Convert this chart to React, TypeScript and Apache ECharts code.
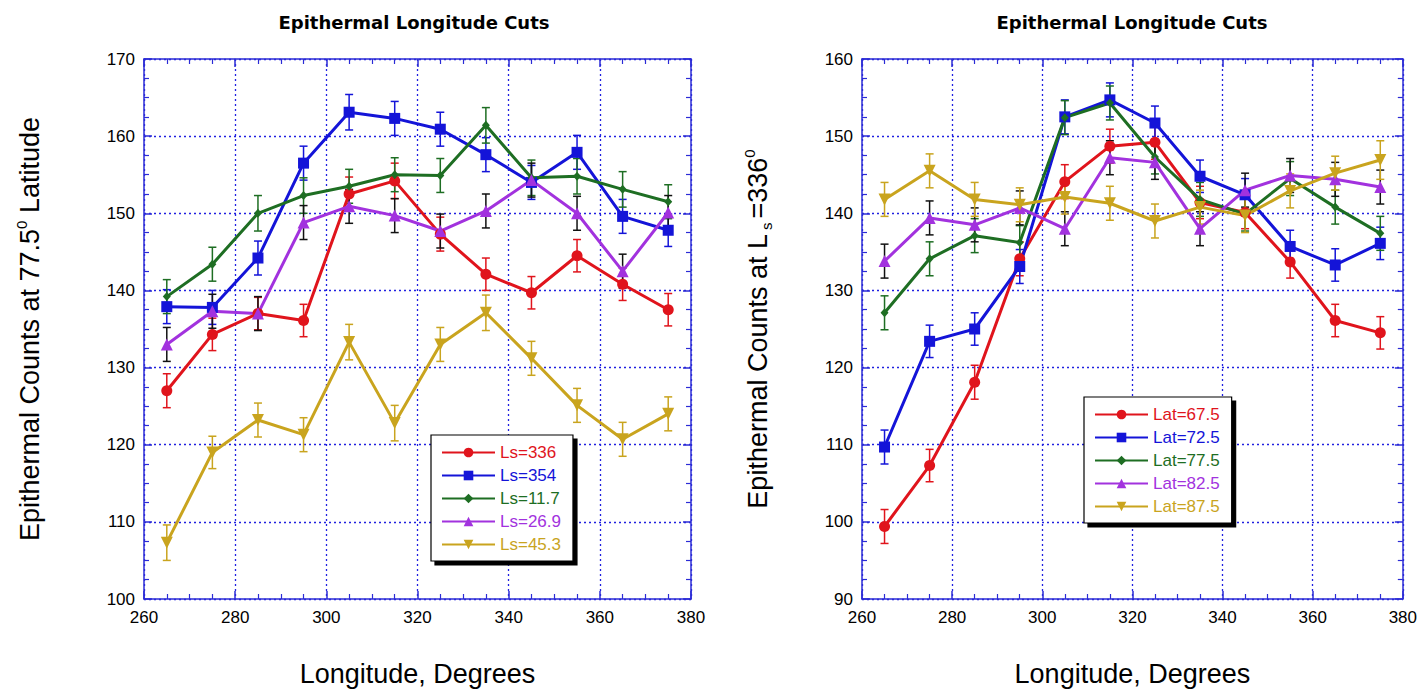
import React, { useEffect, useRef } from "react";
import * as echarts from "echarts";

// ---------- data ----------
const longitudes = [265, 275, 285, 295, 305, 315, 325, 335, 345, 355, 365, 375];

// Left panel: counts at 77.5 deg latitude for several Ls
const ls336 = [127.0, 134.3, 137.0, 136.1, 152.5, 154.2, 147.3, 142.1, 139.7, 144.5, 140.8, 137.5];
const ls354 = [137.9, 137.8, 144.2, 156.5, 163.1, 162.3, 160.9, 157.6, 154.0, 157.9, 149.6, 147.8];
const ls11_7 = [139.2, 143.4, 150.0, 152.3, 153.5, 155.0, 154.9, 161.4, 154.6, 154.8, 153.1, 151.5];
const ls26_9 = [133.0, 137.3, 137.0, 148.8, 150.9, 149.7, 147.7, 150.3, 154.3, 150.0, 142.5, 150.1];
const ls45_3 = [107.3, 119.0, 123.2, 121.3, 133.3, 122.8, 133.0, 137.1, 131.2, 125.1, 120.7, 124.0];

const errLs336 = [2.2, 2.1, 2.1, 2.1, 2.2, 2.3, 2.2, 2.1, 2.1, 2.1, 2.1, 2.1];
const errLs354 = [2.2, 2.2, 2.2, 2.2, 2.3, 2.2, 2.2, 2.2, 2.2, 2.2, 2.2, 2.1];
const errLs11_7 = [2.2, 2.2, 2.3, 2.3, 2.2, 2.2, 2.2, 2.3, 2.3, 2.3, 2.3, 2.2];
const errLs26_9 = [2.2, 2.2, 2.2, 2.2, 2.2, 2.2, 2.2, 2.2, 2.2, 2.2, 2.2, 2.2];
const errLs45_3 = [2.3, 2.1, 2.2, 2.2, 2.3, 2.3, 2.2, 2.3, 2.2, 2.2, 2.2, 2.2];

// Right panel: counts at Ls = 336 for several latitudes
const lat67_5 = [99.4, 107.3, 118.1, 134.1, 144.1, 148.7, 149.2, 141.4, 140.1, 133.7, 126.1, 124.5];
const lat72_5 = [109.7, 123.4, 125.0, 133.1, 152.5, 154.7, 151.7, 144.8, 142.4, 135.7, 133.3, 136.1];
const lat77_5 = [127.1, 134.1, 137.1, 136.2, 152.4, 154.3, 147.3, 141.8, 139.9, 144.5, 140.8, 137.4];
const lat82_5 = [133.8, 139.4, 138.5, 140.7, 138.0, 147.2, 146.6, 138.0, 143.0, 144.9, 144.4, 143.4];
const lat87_5 = [141.8, 145.5, 141.8, 141.1, 142.1, 141.3, 139.0, 140.8, 139.7, 142.9, 145.2, 146.9];

const errLat67_5 = [2.2, 2.1, 2.2, 2.2, 2.2, 2.2, 2.2, 2.1, 2.1, 2.1, 2.1, 2.1];
const errLat72_5 = [2.2, 2.1, 2.1, 2.2, 2.2, 2.2, 2.2, 2.1, 2.1, 2.1, 2.1, 2.1];
const errLat77_5 = [2.2, 2.2, 2.2, 2.2, 2.2, 2.2, 2.2, 2.2, 2.2, 2.2, 2.2, 2.2];
const errLat82_5 = [2.2, 2.2, 2.2, 2.2, 2.2, 2.2, 2.2, 2.2, 2.2, 2.2, 2.2, 2.2];
const errLat87_5 = [2.2, 2.2, 2.2, 2.2, 2.2, 2.2, 2.2, 2.2, 2.2, 2.2, 2.2, 2.5];

const xTicks = { min: 260, max: 380, interval: 20 };
const leftY = { min: 100, max: 170, interval: 10 };
const rightY = { min: 90, max: 160, interval: 10 };

const titleText = "Epithermal Longitude Cuts";
const xTitle = "Longitude, Degrees";

// ---------- styling ----------
const RED = "#e0141c";
const BLUE = "#1414d8";
const GREEN = "#1e6e23";
const PURPLE = "#a232de";
const GOLD = "#c9a41e";
const AXIS = "#2b2bd6";
const GRIDC = "#2020e0";
const FONT = "Liberation Sans, Arial, sans-serif";

type SeriesDef = {
  name: string;
  values: number[];
  errs: number[];
  color: string;
  errColor: string;
  symbol: string;
  size: number | number[];
  rotate?: number;
};

const leftSeries: SeriesDef[] = [
  { name: "Ls=336", values: ls336, errs: errLs336, color: RED, errColor: RED, symbol: "circle", size: 11 },
  { name: "Ls=354", values: ls354, errs: errLs354, color: BLUE, errColor: BLUE, symbol: "rect", size: 11 },
  { name: "Ls=11.7", values: ls11_7, errs: errLs11_7, color: GREEN, errColor: GREEN, symbol: "diamond", size: [8, 9] },
  { name: "Ls=26.9", values: ls26_9, errs: errLs26_9, color: PURPLE, errColor: "#111", symbol: "triangle", size: 12 },
  { name: "Ls=45.3", values: ls45_3, errs: errLs45_3, color: GOLD, errColor: GOLD, symbol: "triangle", size: 12, rotate: 180 },
];

const rightSeries: SeriesDef[] = [
  { name: "Lat=67.5", values: lat67_5, errs: errLat67_5, color: RED, errColor: RED, symbol: "circle", size: 11 },
  { name: "Lat=72.5", values: lat72_5, errs: errLat72_5, color: BLUE, errColor: BLUE, symbol: "rect", size: 11 },
  { name: "Lat=77.5", values: lat77_5, errs: errLat77_5, color: GREEN, errColor: GREEN, symbol: "diamond", size: [8, 9] },
  { name: "Lat=82.5", values: lat82_5, errs: errLat82_5, color: PURPLE, errColor: "#111", symbol: "triangle", size: 12 },
  { name: "Lat=87.5", values: lat87_5, errs: errLat87_5, color: GOLD, errColor: GOLD, symbol: "triangle", size: 12, rotate: 180 },
];

function buildSeries(defs: SeriesDef[], axisIndex: number) {
  const out: any[] = [];
  defs.forEach((d) => {
    out.push({
      name: d.name + " err",
      type: "custom",
      xAxisIndex: axisIndex * 2,
      yAxisIndex: axisIndex * 2,
      z: 1,
      silent: true,
      encode: { x: 0, y: 1 },
      data: longitudes.map((x, i) => [x, d.values[i], d.errs[i]]),
      renderItem: (params: any, api: any) => {
        const x = api.value(0);
        const y = api.value(1);
        const e = api.value(2);
        const hi = api.coord([x, y + e]);
        const lo = api.coord([x, y - e]);
        const w = 4;
        const style = { stroke: d.errColor, lineWidth: 1.5 };
        return {
          type: "group",
          children: [
            { type: "line", shape: { x1: hi[0], y1: hi[1], x2: lo[0], y2: lo[1] }, style },
            { type: "line", shape: { x1: hi[0] - w, y1: hi[1], x2: hi[0] + w, y2: hi[1] }, style },
            { type: "line", shape: { x1: lo[0] - w, y1: lo[1], x2: lo[0] + w, y2: lo[1] }, style },
          ],
        };
      },
    });
    out.push({
      name: d.name,
      type: "line",
      xAxisIndex: axisIndex * 2,
      yAxisIndex: axisIndex * 2,
      z: 3,
      data: longitudes.map((x, i) => [x, d.values[i]]),
      symbol: d.symbol,
      symbolSize: d.size,
      symbolRotate: d.rotate || 0,
      showAllSymbol: true,
      lineStyle: { color: d.color, width: 3 },
      itemStyle: { color: d.color, borderColor: d.color, borderWidth: 0 },
    });
  });
  return out;
}

function xAxes(gridIndex: number) {
  const common = {
    type: "value",
    gridIndex,
    min: xTicks.min,
    max: xTicks.max,
    interval: xTicks.interval,
    axisLine: { show: true, onZero: false, lineStyle: { color: AXIS, width: 1.5 } },
    axisTick: { show: true, inside: true, length: 8, lineStyle: { color: AXIS, width: 1.5 } },
    minorTick: { show: true, splitNumber: 4, length: 5, lineStyle: { color: AXIS, width: 1.2 } },
  };
  return [
    {
      ...common,
      position: "bottom",
      splitLine: { show: true, lineStyle: { color: GRIDC, type: [2, 3], width: 1.3 } },
      axisLabel: { color: "#000", fontSize: 17, fontFamily: FONT, margin: 10 },
      name: xTitle,
      nameLocation: "middle",
      nameGap: 61,
      nameTextStyle: { color: "#000", fontSize: 27, fontFamily: FONT },
    },
    {
      ...common,
      position: "top",
      splitLine: { show: false },
      axisLabel: { show: false },
    },
  ];
}

function yAxes(gridIndex: number, rng: { min: number; max: number; interval: number }, name: string, nameGap: number) {
  const common = {
    type: "value",
    gridIndex,
    min: rng.min,
    max: rng.max,
    interval: rng.interval,
    axisLine: { show: true, onZero: false, lineStyle: { color: AXIS, width: 1.5 } },
    axisTick: { show: true, inside: true, length: 8, lineStyle: { color: AXIS, width: 1.5 } },
    minorTick: { show: true, splitNumber: 4, length: 5, lineStyle: { color: AXIS, width: 1.2 } },
  };
  return [
    {
      ...common,
      position: "left",
      splitLine: { show: true, lineStyle: { color: GRIDC, type: [2, 3], width: 1.3 } },
      axisLabel: { color: "#000", fontSize: 17, fontFamily: FONT, margin: 9 },
      name,
      nameLocation: "middle",
      nameRotate: 90,
      nameGap,
      nameTextStyle: {
        color: "#000",
        fontFamily: FONT,
        rich: {
          a: { fontSize: 27, fontFamily: FONT, color: "#000", lineHeight: 32 },
          sup: { fontSize: 15, fontFamily: FONT, color: "#000", verticalAlign: "top", lineHeight: 32 },
          sub: { fontSize: 15, fontFamily: FONT, color: "#000", verticalAlign: "bottom", lineHeight: 32, padding: [0, 4, 0, 4] },
        },
      },
    },
    {
      ...common,
      position: "right",
      splitLine: { show: false },
      axisLabel: { show: false },
    },
  ];
}

function legendFor(defs: SeriesDef[], left: number, top: number) {
  return {
    orient: "vertical",
    left,
    top,
    data: defs.map((d) => ({ name: d.name, textStyle: { color: d.color } })),
    itemWidth: 53,
    itemHeight: 12,
    itemGap: 6,
    selectedMode: false,
    textStyle: { fontSize: 17, fontFamily: FONT },
    backgroundColor: "#ffffff",
    borderColor: "#000",
    borderWidth: 1.2,
    borderRadius: 0,
    padding: [9, 12, 8, 10],
    shadowColor: "#000",
    shadowBlur: 0,
    shadowOffsetX: 4,
    shadowOffsetY: 4,
  };
}

export default function App() {
  const ref = useRef<HTMLDivElement>(null);
  useEffect(() => {
    if (!ref.current) return;
    const chart = echarts.init(ref.current, null, { renderer: "svg" });
    const option: any = {
      animation: false,
      backgroundColor: "#ffffff",
      title: [
        {
          text: titleText,
          left: 414,
          top: 13,
          textAlign: "center",
          padding: 0,
          textStyle: { fontFamily: "DejaVu Sans", fontWeight: "bold", fontSize: 18, color: "#000" },
        },
        {
          text: titleText,
          left: 1132,
          top: 13,
          textAlign: "center",
          padding: 0,
          textStyle: { fontFamily: "DejaVu Sans", fontWeight: "bold", fontSize: 18, color: "#000" },
        },
      ],
      grid: [
        { left: 144, top: 59, width: 547, height: 546, containLabel: false },
        { left: 862, top: 59, width: 549, height: 546, containLabel: false },
      ],
      xAxis: [...xAxes(0), ...xAxes(1)],
      yAxis: [
        ...yAxes(0, leftY, "{a|Epithermal Counts at 77.5}{sup|0}{a| Latitude}", 98),
        ...yAxes(1, rightY, "{a|Epithermal Counts at L}{sub|s}{a|=336}{sup|0}", 88),
      ],
      legend: [legendFor(leftSeries, 431, 435), legendFor(rightSeries, 1084, 397)],
      series: [...buildSeries(leftSeries, 0), ...buildSeries(rightSeries, 1)],
    };
    chart.setOption(option);
    return () => chart.dispose();
  }, []);
  return (
    <div
      ref={ref}
      style={{ position: "absolute", left: 0, top: 0, width: 1420, height: 692 }}
    />
  );
}
